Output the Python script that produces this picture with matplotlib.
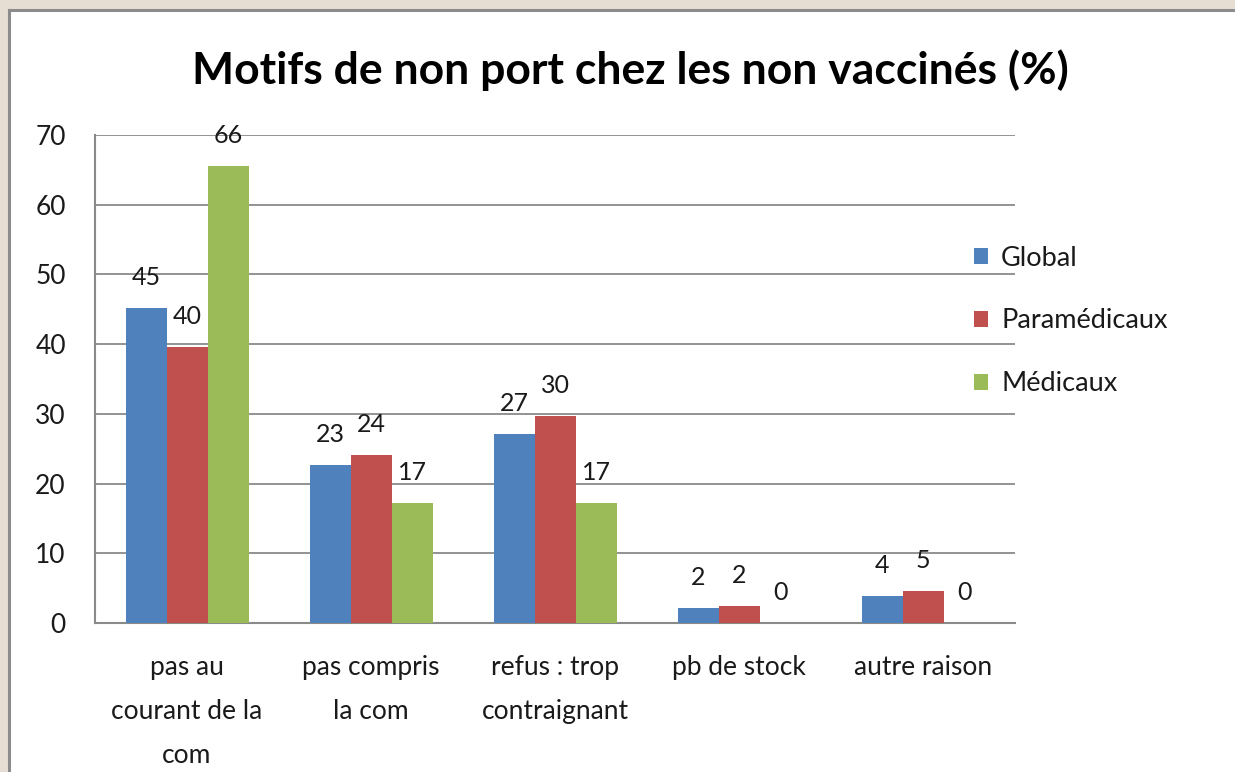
import matplotlib
matplotlib.use("Agg")
import matplotlib.pyplot as plt
from matplotlib.patches import Rectangle
from matplotlib.lines import Line2D
import numpy as np

categories = ["pas au\ncourant de la\ncom", "pas compris\nla com", "refus : trop\ncontraignant",
              "pb de stock", "autre raison"]
series_names = ["Global", "Paramédicaux", "Médicaux"]
global_vals = [45.2, 22.7, 27.1, 2.1, 3.9]
paramed_vals = [39.6, 24.1, 29.7, 2.4, 4.6]
medic_vals = [65.6, 17.2, 17.2, 0, 0]
title = "Motifs de non port chez les non vaccinés (%)"
colors = ["#4F81BD", "#C0504D", "#9BBB59"]

W, H = 1235, 772
fig = plt.figure(figsize=(W / 100, H / 100), dpi=100)
fig.patch.set_facecolor("#E6DED3")
plt.rcParams['font.family'] = ['Lato', 'DejaVu Sans']

# white chart panel with gray border (top and left edges only visible)
x0, ytop = 9 / W, (H - 10) / H
panel = Rectangle((x0, -0.1), 1.2, ytop + 0.1, transform=fig.transFigure,
                  facecolor="white", edgecolor="none", zorder=-10)
fig.patches.append(panel)
fig.lines.append(Line2D([x0, x0], [0, ytop], transform=fig.transFigure,
                        color="#8C8C8C", linewidth=2.2, zorder=-9))
fig.lines.append(Line2D([x0, 1], [ytop, ytop], transform=fig.transFigure,
                        color="#8C8C8C", linewidth=2.2, zorder=-9))

ax = fig.add_axes([95 / W, (H - 623) / H, (1015 - 95) / W, (623 - 135) / H], zorder=5)
ax.set_facecolor("none")

x = np.arange(len(categories))
bw = 41 / 184
all_vals = [global_vals, paramed_vals, medic_vals]
handles = []
for i, (vals, name, c) in enumerate(zip(all_vals, series_names, colors)):
    bars = ax.bar(x + (i - 1) * bw, vals, width=bw, color=c, label=name, zorder=3)
    handles.append(bars)
    for xi, v in zip(x + (i - 1) * bw, vals):
        ax.annotate(f"{v:.0f}", (xi, v), xytext=(0, 22), textcoords="offset points",
                    ha="center", va="center", fontsize=18, color="#1A1A1A", zorder=4)

ax.set_xlim(-0.5, len(categories) - 0.5)
ax.set_ylim(0, 70)
ax.set_yticks(range(0, 71, 10))
ax.yaxis.grid(True, color="#8A8A8A", linewidth=1.3, zorder=1)
ax.set_axisbelow(True)
for s in ["top", "right"]:
    ax.spines[s].set_visible(False)
for s in ["left", "bottom"]:
    ax.spines[s].set_color("#8A8A8A")
    ax.spines[s].set_linewidth(1.5)
ax.tick_params(axis="y", length=0, pad=21, labelsize=19, labelcolor="#1A1A1A")
ax.tick_params(axis="x", length=0, pad=23, labelsize=19, labelcolor="#1A1A1A")
ax.set_xticks(x)
ax.set_xticklabels(categories, linespacing=1.95, va="top")

fig.text(630 / W, (H - 70) / H, title, ha="center", va="center", fontsize=32,
         fontweight="bold", color="black")

leg = fig.legend(handles=handles, labels=series_names, loc="center left",
                 bbox_to_anchor=(974 / W, (H - 321) / H), frameon=False, fontsize=19.5,
                 handlelength=0.5, handleheight=0.5, handletextpad=0.5,
                 labelspacing=1.4, borderpad=0, borderaxespad=0)
for t in leg.get_texts():
    t.set_color("#1A1A1A")

fig.savefig("out.png", dpi=100, facecolor=fig.get_facecolor())
